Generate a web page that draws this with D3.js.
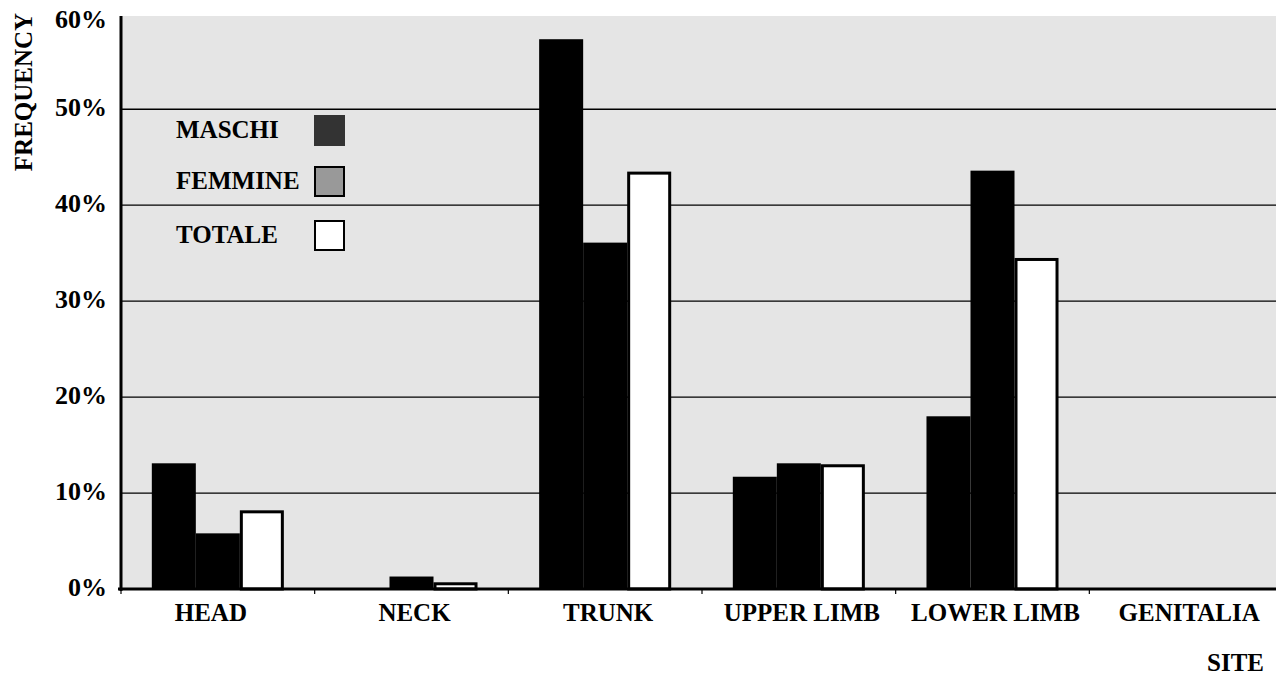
<!DOCTYPE html>
<html>
<head>
<meta charset="utf-8">
<script src="https://cdn.jsdelivr.net/npm/d3@7"></script>
<style>
  html, body { margin: 0; padding: 0; background: #fff; }
  svg { display: block; }
  text { font-family: "Liberation Serif", "Times New Roman", serif; font-weight: bold; fill: #000; }
</style>
</head>
<body>
<svg id="chart" width="1276" height="677"></svg>
<script>
const categories = ["HEAD", "NECK", "TRUNK", "UPPER LIMB", "LOWER LIMB", "GENITALIA"];
const seriesNames = ["MASCHI", "FEMMINE", "TOTALE"];
const maschi  = [13.1, 0.0, 57.3, 11.7, 18.0, 0.0];
const femmine = [5.8, 1.3, 36.1, 13.1, 43.6, 0.0];
const totale  = [8.2, 0.7, 43.5, 13.0, 34.5, 0.0];
const yTicks = [0, 10, 20, 30, 40, 50, 60];
const yTickLabels = ["0%", "10%", "20%", "30%", "40%", "50%", "60%"];

const seriesValues = [maschi, femmine, totale];
const barFill = ["#000000", "#000000", "#ffffff"];
const legendFill = ["#333333", "#999999", "#ffffff"];

const svg = d3.select("#chart");
const left = 121, right = 1283, bottom = 589, plotTop = 16;

const x = d3.scaleBand().domain(categories).range([left, right]).padding(0);
const xs = d3.scaleBand().domain(seriesNames).range([0, x.bandwidth()]).paddingInner(0).paddingOuter(0.7);
const y = d3.scaleLinear().domain([0, 60]).range([bottom, 13.3]);

// background
svg.append("rect").attr("x", left).attr("y", plotTop)
  .attr("width", 1276 - left).attr("height", bottom - plotTop).attr("fill", "#e5e5e5");

// gridlines
svg.append("g").selectAll("line").data(yTicks.filter(d => d > 0 && d < 60)).join("line")
  .attr("x1", left).attr("x2", 1276)
  .attr("y1", d => y(d)).attr("y2", d => y(d))
  .attr("stroke", "#000").attr("stroke-width", 1.3);

// bars
const rows = [];
seriesNames.forEach((s, si) => {
  categories.forEach((c, ci) => {
    rows.push({ s, si, c, v: seriesValues[si][ci] });
  });
});
const barsG = svg.append("g");
barsG.selectAll("rect").data(rows.filter(d => d.v > 0 && d.si < 2)).join("rect")
  .attr("x", d => x(d.c) + xs(d.s))
  .attr("y", d => y(d.v))
  .attr("width", xs.bandwidth())
  .attr("height", d => bottom - y(d.v))
  .attr("fill", d => barFill[d.si]);
barsG.append("g").selectAll("rect").data(rows.filter(d => d.v > 0 && d.si === 2)).join("rect")
  .attr("x", d => x(d.c) + xs(d.s) + 1.5)
  .attr("y", d => y(d.v) + 1.5)
  .attr("width", xs.bandwidth() - 3)
  .attr("height", d => Math.max(0, bottom - y(d.v) - 1.5))
  .attr("fill", "#fff").attr("stroke", "#000").attr("stroke-width", 3);

// axes lines
svg.append("line").attr("x1", left).attr("x2", left).attr("y1", plotTop).attr("y2", bottom + 2)
  .attr("stroke", "#000").attr("stroke-width", 3);
svg.append("line").attr("x1", left - 3).attr("x2", 1276).attr("y1", bottom).attr("y2", bottom)
  .attr("stroke", "#000").attr("stroke-width", 3);

// x tick marks at band boundaries
svg.append("g").selectAll("line").data(categories).join("line")
  .attr("x1", d => x(d)).attr("x2", d => x(d))
  .attr("y1", bottom).attr("y2", bottom + 5)
  .attr("stroke", "#000").attr("stroke-width", 1.2);

// y tick labels
svg.append("g").selectAll("text").data(yTicks).join("text")
  .attr("x", 107)
  .attr("y", d => Math.max(y(d), 21) + 7)
  .attr("text-anchor", "end")
  .attr("font-size", 26)
  .text((d, i) => yTickLabels[i]);

// x labels
svg.append("g").selectAll("text").data(categories).join("text")
  .attr("x", d => x(d) + x.bandwidth() / 2 + (d === "HEAD" ? -7 : 3))
  .attr("y", 621)
  .attr("text-anchor", "middle")
  .attr("font-size", 25)
  .text(d => d);

// axis titles
svg.append("text").attr("transform", "translate(32,92) rotate(-90)")
  .attr("text-anchor", "middle").attr("font-size", 25).text("FREQUENCY");
svg.append("text").attr("x", 1264).attr("y", 671)
  .attr("text-anchor", "end").attr("font-size", 25).text("SITE");

// legend
const lg = svg.append("g");
const legendY = [115, 166, 220];
seriesNames.forEach((s, i) => {
  const yy = legendY[i];
  lg.append("text").attr("x", 176).attr("y", yy + 23).attr("font-size", 25).text(s);
  lg.append("rect").attr("x", i === 0 ? 314 : 315).attr("y", yy + (i === 0 ? 0 : 1))
    .attr("width", i === 0 ? 31 : 29).attr("height", i === 0 ? 31 : 29)
    .attr("fill", legendFill[i])
    .attr("stroke", i === 0 ? "none" : "#000").attr("stroke-width", 2);
});
</script>
</body>
</html>
